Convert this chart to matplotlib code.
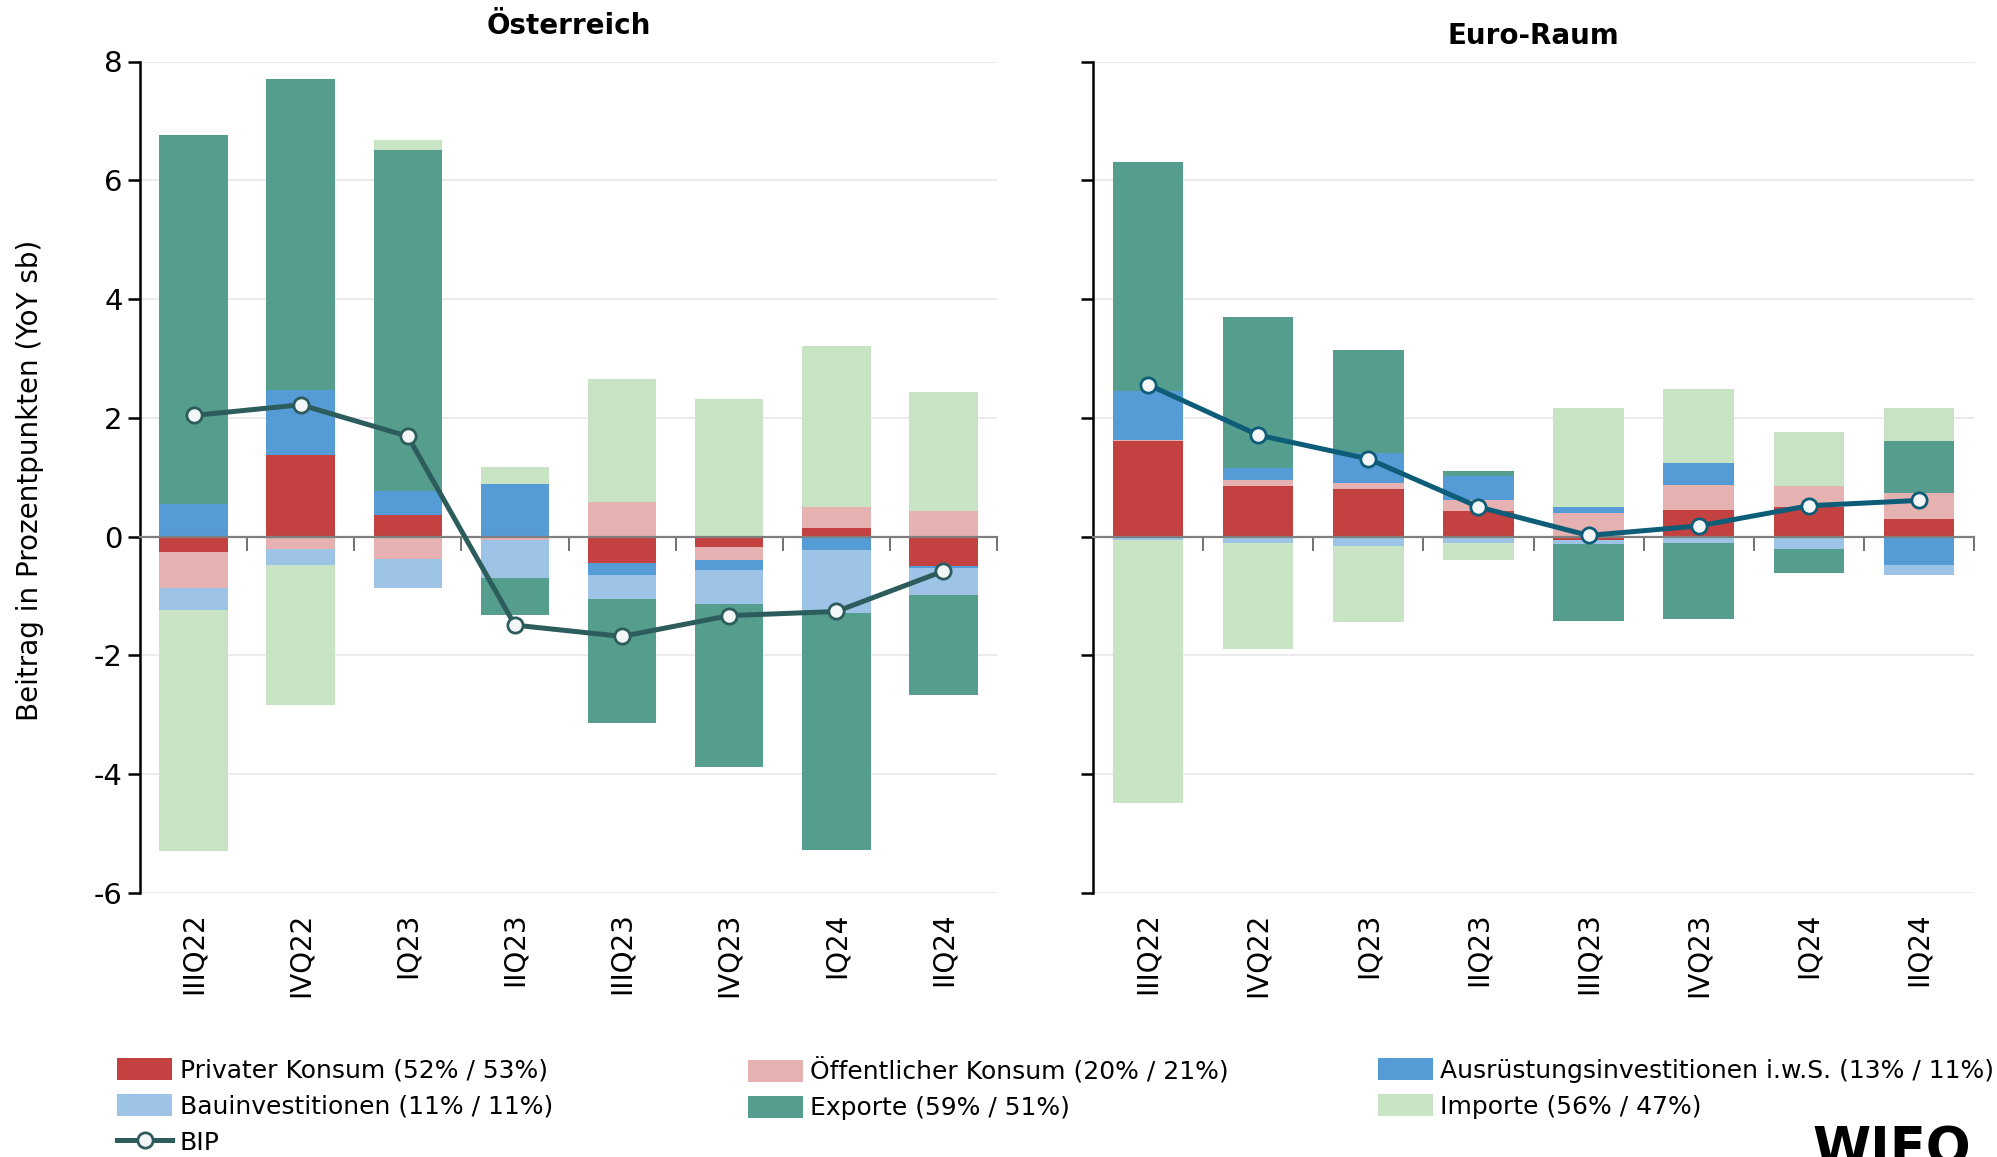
import numpy as np
import matplotlib
matplotlib.use("Agg")
import matplotlib.pyplot as plt

plt.rcParams['font.family'] = ['DejaVu Sans']
plt.rcParams['axes.unicode_minus'] = False

quarters = ["IIIQ22", "IVQ22", "IQ23", "IIQ23", "IIIQ23", "IVQ23", "IQ24", "IIQ24"]

# Österreich
privat_at = [-0.26, 1.38, 0.36, 0.00, -0.45, -0.17, 0.15, -0.50]
oeff_at = [-0.60, -0.20, -0.38, -0.05, 0.59, -0.22, 0.35, 0.43]
ausr_at = [0.55, 1.09, 0.41, 0.89, -0.19, -0.18, -0.22, -0.02]
bau_at = [-0.37, -0.27, -0.48, -0.64, -0.41, -0.57, -1.06, -0.46]
exp_at = [6.22, 5.23, 5.74, -0.63, -2.08, -2.74, -3.99, -1.69]
imp_at = [-4.07, -2.37, 0.17, 0.29, 2.07, 2.32, 2.71, 2.01]
bip_at = [2.04, 2.22, 1.69, -1.49, -1.68, -1.33, -1.26, -0.58]

# Euro-Raum
privat_ea = [1.61, 0.86, 0.80, 0.44, -0.06, 0.45, 0.50, 0.29]
oeff_ea = [0.02, 0.10, 0.10, 0.18, 0.40, 0.42, 0.36, 0.45]
ausr_ea = [0.82, 0.19, 0.51, 0.40, 0.10, 0.37, 0.00, -0.47]
bau_ea = [-0.05, -0.11, -0.16, -0.11, -0.07, -0.11, -0.21, -0.18]
exp_ea = [3.85, 2.55, 1.74, 0.08, -1.29, -1.28, -0.41, 0.87]
imp_ea = [-4.44, -1.78, -1.27, -0.28, 1.66, 1.25, 0.90, 0.55]
bip_ea = [2.56, 1.71, 1.31, 0.50, 0.02, 0.18, 0.52, 0.61]

labels = ["Privater Konsum (52% / 53%)", "Öffentlicher Konsum (20% / 21%)",
          "Ausrüstungsinvestitionen i.w.S. (13% / 11%)", "Bauinvestitionen (11% / 11%)",
          "Exporte (59% / 51%)", "Importe (56% / 47%)"]
colors = ["#C34241", "#E6B2B1", "#559BD6", "#9DC3E6", "#559E8E", "#C8E4C5"]

fig = plt.figure(figsize=(19.97, 11.57), dpi=100)
ax1 = fig.add_axes([140/1997, 1-893/1157, 857/1997, 831.5/1157])
ax2 = fig.add_axes([1093/1997, 1-893/1157, 881/1997, 831.5/1157])

x = np.arange(len(quarters))


def draw(ax, series, bip, line_color, title, title_y):
    pos = np.zeros(len(x))
    neg = np.zeros(len(x))
    bars = []
    for vals, col, lab in zip(series, colors, labels):
        v = np.array(vals)
        bottom = np.where(v >= 0, pos, neg)
        b = ax.bar(x, v, 0.64, bottom=bottom, color=col, label=lab, zorder=1)
        bars.append(b)
        pos += np.where(v >= 0, v, 0)
        neg += np.where(v < 0, v, 0)
    ln, = ax.plot(x, bip, color=line_color, lw=3.6, marker="o", ms=11,
                  mfc="#F2F6F7", mec=line_color, mew=2, zorder=5, label="BIP")
    ax.set_xlim(-0.5, 7.5)
    ax.set_ylim(-6, 8)
    ax.set_yticks(range(-6, 9, 2))
    ax.grid(axis="y", color="#EBEBEB", lw=1.5, zorder=0)
    ax.set_axisbelow(True)
    for s in ["top", "right"]:
        ax.spines[s].set_visible(False)
    ax.spines["left"].set_linewidth(1.8)
    ax.spines["bottom"].set_position(("data", 0))
    ax.spines["bottom"].set_color("#7F7F7F")
    ax.spines["bottom"].set_linewidth(1.6)
    ax.spines["bottom"].set_zorder(3)
    ax.set_xticks(np.arange(0.5, 8, 1))
    ax.tick_params(axis="x", direction="out", length=10, width=1.2, color="#595959", labelbottom=False)
    ax.tick_params(axis="y", direction="out", length=9, width=1.8, labelsize=21)
    sec = ax.secondary_xaxis(0.0)
    sec.set_xticks(x)
    sec.set_xticklabels(quarters, rotation=90, fontsize=20)
    sec.tick_params(length=0, pad=14)
    sec.spines["bottom"].set_visible(False)
    ax.text(0.5, 1 - (title_y - 61.5) / 831.5, title, transform=ax.transAxes,
            ha="center", va="center", fontsize=20, fontweight="bold")
    return bars, ln


bars_at, ln_at = draw(ax1, [privat_at, oeff_at, ausr_at, bau_at, exp_at, imp_at], bip_at,
                      "#2D5C5D", "Österreich", 26)
bars_ea, ln_ea = draw(ax2, [privat_ea, oeff_ea, ausr_ea, bau_ea, exp_ea, imp_ea], bip_ea,
                      "#0D5C78", "Euro-Raum", 36)
ax2.tick_params(axis="y", labelleft=False)

fig.text(30/1997, 1-480/1157, "Beitrag in Prozentpunkten (YoY sb)", rotation=90,
         ha="center", va="center", fontsize=20)

# legend in three columns
cols = [([bars_at[0], bars_at[3], ln_at], [labels[0], labels[3], "BIP"], 117),
        ([bars_at[1], bars_at[4]], [labels[1], labels[4]], 748),
        ([bars_at[2], bars_at[5]], [labels[2], labels[5]], 1378)]
for hs, ls, xp in cols:
    fig.legend(hs, ls, loc="upper left", bbox_to_anchor=(xp/1997, 1-1058/1157),
               frameon=False, fontsize=18, borderpad=0, borderaxespad=0,
               handlelength=2.2, handleheight=1.0, handletextpad=0.3, labelspacing=0.45)

fig.text(1812/1997, 1-1166/1157, "WIFO", fontsize=38, fontweight="bold", ha="left", va="baseline")

fig.savefig("out.png", dpi=100)
